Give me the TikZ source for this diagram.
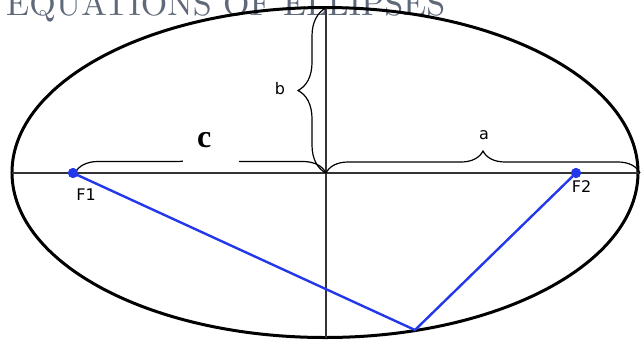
\documentclass[tikz,border=0pt]{standalone}
\usepackage{fontspec}
\newfontfamily\labfont{DejaVu Sans}
\newfontfamily\cfont{Liberation Serif}
\usetikzlibrary{decorations.pathreplacing}
\definecolor{titlegray}{RGB}{95,105,122}
\definecolor{focusblue}{RGB}{35,55,235}
\begin{document}
\begin{tikzpicture}[x=1pt,y=-1pt,
  axisline/.style={line width=1.2pt, draw=black!80},
  bracebr/.style={decorate, decoration={brace, amplitude=#1}, line width=1.2pt},
  lab/.style={font=\labfont\fontsize{16}{18}\selectfont, inner sep=0},
  focusline/.style={line width=2.4pt, draw=focusblue},
  dot/.style={circle, fill=focusblue, inner sep=0, minimum size=10pt}]
\useasboundingbox (0,0) rectangle (642,341);
% title (behind the ellipse)
\node[anchor=base west, inner sep=0, text=titlegray] (title) at (6,15)
  {\resizebox{439pt}{!}{EQUATIONS OF ELLIPSES}};
% key points
\coordinate (O) at (326,173);
\coordinate (L) at (12,173);
\coordinate (R) at (640,173);
\coordinate (T) at (326,8);
\coordinate (B) at (326,338);
\coordinate (P) at (415,330);
\coordinate (Cstart) at (75,173);
% ellipse
\draw[line width=3pt] (325,172.5) ellipse [x radius=313, y radius=165];
% axes
\draw[axisline] (L) -- (R);
\draw[axisline] (T) -- (B);
% braces
\draw[bracebr=22] (O) -- (R);
\draw[bracebr=28] (O) -- (T);
\draw[bracebr=23] (Cstart) -- (O);
% labels
\node[lab] (alab) at (484,135.5) {a};
\node[lab] (blab) at (280,88.5) {b};
\node[fill=white, inner sep=0, minimum width=56pt, minimum height=40pt] (clab) at (211,145)
  {\smash{\makebox[0pt][l]{\hspace*{-14pt}\raisebox{-2pt}{\cfont\bfseries\fontsize{32}{34}\selectfont c}}}};
% focal points and lines
\node[dot] (F1) at (73,173) {};
\node[dot] (F2) at (576,173) {};
\draw[focusline] (F1.center) -- (P) -- (F2.center);
\node[dot] at (F1) {};
\node[dot] at (F2) {};
\node[lab] (F1lab) at (86,195) {F1};
\node[lab] (F2lab) at (581.5,187) {F2};
\end{tikzpicture}
\end{document}
